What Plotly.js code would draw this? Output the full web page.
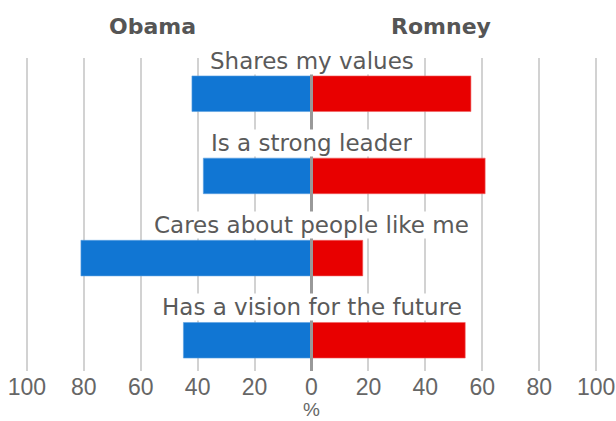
<!DOCTYPE html>
<html>
<head>
<meta charset="utf-8">
<script src="https://cdn.plot.ly/plotly-3.0.1.min.js"></script>
<style>html,body{margin:0;padding:0;background:#fff;}#chart{width:616px;height:421px;}</style>
</head>
<body>
<div id="chart"></div>
<script>
// Data
const categories = ["Shares my values", "Is a strong leader", "Cares about people like me", "Has a vision for the future"];
const obamaValues = [42, 38, 81, 45];
const romneyValues = [56, 61, 18, 54];
const tickValues = [-100, -80, -60, -40, -20, 0, 20, 40, 60, 80, 100];
const tickLabels = ["100", "80", "60", "40", "20", "0", "20", "40", "60", "80", "100"];
const seriesNames = ["Obama", "Romney"];
const axisTitle = "%";

const FONT = "Liberation Sans, Arial, Helvetica, sans-serif";
const LFONT = "DejaVu Sans, Verdana, sans-serif";
const idx = categories.map((c, i) => i);

const traces = [
  {
    type: "bar", orientation: "h", name: seriesNames[0],
    y: idx, x: obamaValues.map(v => -v),
    width: 0.433,
    marker: {color: "#1176d3", line: {color: "#5a9fe0", width: 0.6}},
    hoverinfo: "skip"
  },
  {
    type: "bar", orientation: "h", name: seriesNames[1],
    y: idx, x: romneyValues,
    width: 0.433,
    marker: {color: "#e80000", line: {color: "#f06060", width: 0.6}},
    hoverinfo: "skip"
  }
];

const annotations = categories.map((c, i) => ({
  text: c, x: 0, xref: "x", y: i - 0.40, yref: "y",
  showarrow: false, xanchor: "center", yanchor: "middle",
  bgcolor: "#ffffff", borderpad: 0, height: 26,
  font: {family: LFONT, size: 23, color: "#5a5a5a"}
}));
annotations.push({
  text: "<b>" + seriesNames[0] + "</b>", x: -56, xref: "x", y: 1.10, yref: "paper",
  showarrow: false, xanchor: "center", yanchor: "middle",
  font: {family: LFONT, size: 22, color: "#555555"}
});
annotations.push({
  text: "<b>" + seriesNames[1] + "</b>", x: 45.4, xref: "x", y: 1.10, yref: "paper",
  showarrow: false, xanchor: "center", yanchor: "middle",
  font: {family: LFONT, size: 22, color: "#555555"}
});
annotations.push({
  text: axisTitle, x: 0, xref: "x", y: -0.124, yref: "paper",
  showarrow: false, xanchor: "center", yanchor: "middle",
  font: {family: FONT, size: 19, color: "#666666"}
});

const layout = {
  width: 616, height: 421,
  margin: {l: 24, r: 17, t: 58, b: 50, pad: 0},
  paper_bgcolor: "#ffffff", plot_bgcolor: "#ffffff",
  showlegend: false,
  barmode: "relative",
  xaxis: {
    range: [-101, 101], tickvals: tickValues, ticktext: tickLabels,
    showgrid: true, gridcolor: "#d2d2d2", gridwidth: 2,
    zeroline: false, showline: false, ticks: "",
    tickfont: {family: FONT, size: 23, color: "#666666"},
    fixedrange: true
  },
  yaxis: {
    range: [3.374, -0.435], showgrid: false, zeroline: false, showline: false,
    showticklabels: false, ticks: "", fixedrange: true
  },
  shapes: [{
    type: "line", xref: "x", yref: "paper", x0: 0, x1: 0, y0: 0, y1: 1,
    line: {color: "#999999", width: 3}, layer: "above"
  }],
  annotations: annotations
};

Plotly.newPlot("chart", traces, layout, {displayModeBar: false, staticPlot: true});
</script>
</body>
</html>
